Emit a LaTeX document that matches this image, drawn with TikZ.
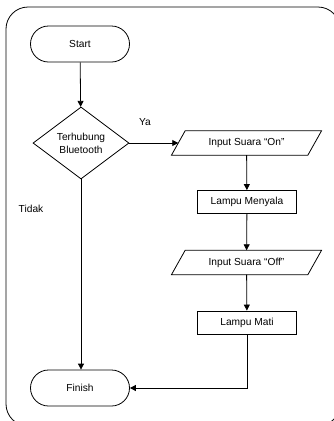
\documentclass[tikz,border=0pt]{standalone}
\usepackage{fontspec}
\setmainfont{Liberation Sans}
\usetikzlibrary{shapes.geometric,arrows.meta}
\begin{document}
\begin{tikzpicture}[x=1pt,y=-1pt,
  every node/.style={font=\fontsize{10.2}{13}\selectfont},
  line/.style={draw=black,line width=0.8pt},
  arr/.style={line,-{Triangle[length=6pt,width=6pt]}},
  term/.style={line,rectangle,rounded corners=18pt,minimum width=99pt,minimum height=36pt,inner sep=0pt},
  proc/.style={line,rectangle,minimum width=99pt,minimum height=23pt,inner sep=0pt},
  io/.style={rectangle,minimum width=136pt,minimum height=24pt,inner sep=0pt},
  dec/.style={line,diamond,aspect=1.333,minimum width=96pt,minimum height=72pt,inner sep=0pt,align=center},
  lbl/.style={inner sep=0pt}]
\clip (0,0) rectangle (334,421);
\draw[line,rounded corners=22pt] (6,7) rectangle (340,426);
\node[term] (start) at (80,44) {Start};
\node[dec] (dec) at (81,143) {Terhubung\\Bluetooth};
\node[io] (in1) at (246.5,143) {Input Suara “On”};
\node[proc] (lm) at (247,202) {Lampu Menyala};
\node[io] (in2) at (246.5,262.5) {Input Suara “Off”};
\node[proc] (mati) at (247,322.5) {Lampu Mati};
\node[term] (fin) at (80,388) {Finish};
\node[lbl] (ya) at (145,122) {Ya};
\node[lbl] (tidak) at (31,209) {Tidak};
\foreach \n in {in1,in2}{
  \draw[line] ([xshift=-6.85pt]\n.south west) -- ([xshift=6.85pt]\n.north west)
    -- ([xshift=6.85pt]\n.north east) -- ([xshift=-6.85pt]\n.south east) -- cycle;
}
\draw[arr] (start) -- (dec);
\draw[arr] (dec.east) -- (in1.west);
\draw[arr] (in1) -- (lm);
\draw[arr] (lm) -- (in2);
\draw[arr] (in2) -- (mati);
\draw[arr] (dec.south) -- (dec.south |- fin.north);
\draw[arr] (mati.south) |- (fin.east);
\end{tikzpicture}
\end{document}
